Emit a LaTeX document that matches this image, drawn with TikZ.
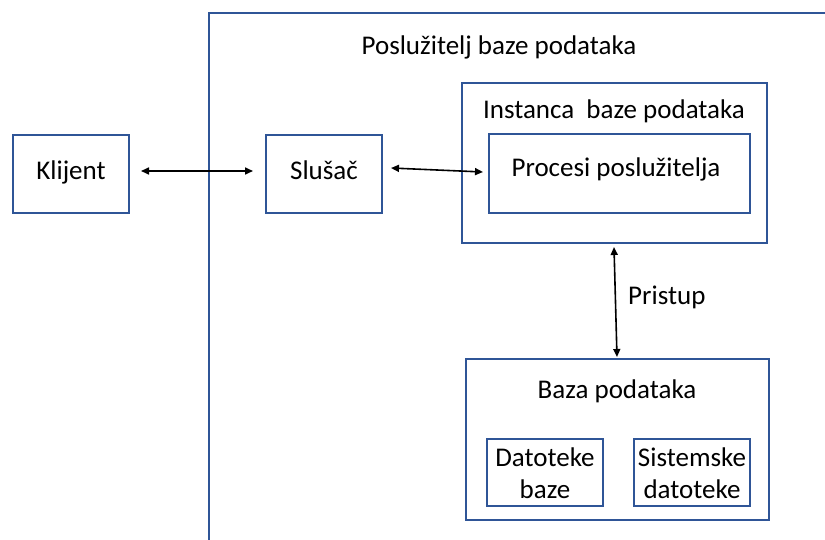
\documentclass[tikz,border=0pt]{standalone}
\usepackage{fontspec}
\setmainfont{Carlito}
\usetikzlibrary{arrows.meta}
\definecolor{boxblue}{RGB}{47,85,151}
\begin{document}
\begin{tikzpicture}[x=1pt,y=-1pt,
  box/.style={draw=boxblue,line width=2pt,inner sep=0pt,fill=none},
  lbl/.style={anchor=base,inner sep=0pt,font=\fontsize{27}{32}\selectfont},
  conn/.style={line width=1.6pt,{Triangle[length=8pt,width=7pt]}-{Triangle[length=8pt,width=7pt]}}]
\useasboundingbox (0,0) rectangle (825,540);
% outer frame (open)
\coordinate (fr) at (825,13);
\draw[boxblue,line width=2pt] (fr) -- (209,13) -- (209,541);
\node[lbl] (tposl) at (499,55) {Poslužitelj baze podataka};
% boxes
\node[box,minimum width=116pt,minimum height=78pt] (k) at (71,174) {};
\node[box,minimum width=116pt,minimum height=78pt] (s) at (324,174) {};
\node[box,minimum width=305pt,minimum height=160pt] (inst) at (614.5,163) {};
\node[box,minimum width=261pt,minimum height=79pt] (p) at (619.5,173.5) {};
\node[box,minimum width=303pt,minimum height=161pt] (baza) at (617.5,439.5) {};
\node[box,minimum width=116pt,minimum height=67pt] (dat) at (545,472.5) {};
\node[box,minimum width=116pt,minimum height=67pt] (sis) at (692,472.5) {};
% labels
\node[lbl] (tk) at (71,180) {Klijent};
\node[lbl] (ts) at (324,180) {Slušač};
\node[lbl] (ti) at (614,119) {Instanca\ \ baze podataka};
\node[lbl] (tp) at (616,177) {Procesi poslužitelja};
\node[lbl] (tb) at (617,398) {Baza podataka};
\node[lbl] (td1) at (545,466) {Datoteke};
\node[lbl] (td2) at (545,498) {baze};
\node[lbl] (ts1) at (692,466) {Sistemske};
\node[lbl] (ts2) at (692,498) {datoteke};
\node[lbl,anchor=base west] (tpr) at (628,305) {Pristup};
% connectors
\draw[conn] ([xshift=11pt,yshift=3pt]k.east) -- ([xshift=-12pt,yshift=3pt]s.west);
\draw[conn] ([xshift=8pt,yshift=6pt]s.east) -- ([xshift=-5pt,yshift=1.5pt]p.west);
\draw[conn] ([xshift=-0.5pt,yshift=-3pt]inst.south) -- ([xshift=-0.5pt,yshift=1pt]baza.north);
\end{tikzpicture}
\end{document}
